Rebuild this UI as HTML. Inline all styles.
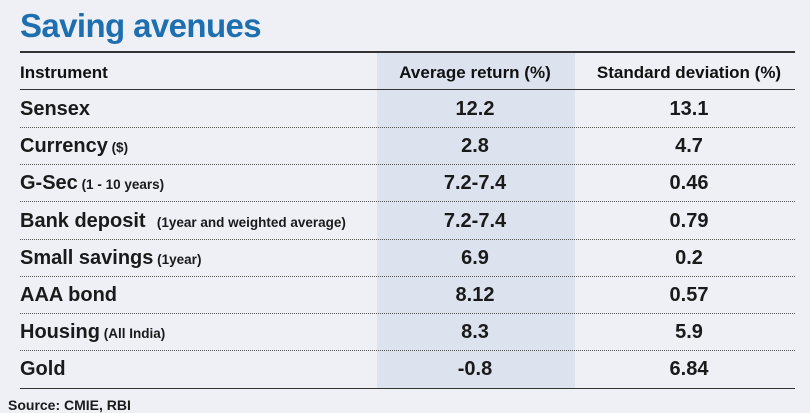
<!DOCTYPE html>
<html><head><meta charset="utf-8"><style>
body{margin:0;width:810px;height:413px;background:#eef0f6;position:relative;overflow:hidden;font-family:"Liberation Sans",sans-serif;color:#1a1a1a}
.shade{position:absolute;left:377px;top:53px;width:198px;height:336px;background:#dce3ee}
.title{position:absolute;left:20px;top:7px;font-family:"Liberation Sans",sans-serif;font-weight:bold;font-size:33px;color:#1e6fb0;letter-spacing:-0.6px}
.hl{position:absolute;left:20px;width:775px;border-top:2px solid #333}
.dl{position:absolute;left:20px;width:775px;border-top:1px dotted #555}
.t{position:absolute;white-space:nowrap;line-height:1}
.hd{font-weight:bold;font-size:17px;top:64px;color:#111}
.r{font-size:20px;font-weight:bold}
.s{font-size:13.5px;font-weight:bold}
.c{transform:translateX(-50%);font-size:20px;font-weight:bold}
</style></head><body>
<div class="shade"></div>
<div class="title">Saving avenues</div>
<div class="hl" style="top:51px"></div>
<div class="t hd" style="left:20px">Instrument</div>
<div class="t hd" style="left:475px;transform:translateX(-50%)">Average return (%)</div>
<div class="t hd" style="left:689px;transform:translateX(-50%)">Standard deviation (%)</div>
<div class="hl" style="top:89px;border-top-width:1.5px"></div>
<div id="rows"></div>
<div class="hl" style="top:388px;border-top-width:1.5px"></div>
<div class="t" style="left:8px;top:398px;font-size:14px;font-weight:bold">Source: CMIE, RBI</div>
<script>
const names=["Sensex","Currency","G-Sec","Bank deposit","Small savings","AAA bond","Housing","Gold"];
const notes=[""," ($)"," (1 - 10 years)","&nbsp;&nbsp;&nbsp;(1year and weighted average)"," (1year)",""," (All India)",""];
const avgVals=["12.2","2.8","7.2-7.4","7.2-7.4","6.9","8.12","8.3","-0.8"];
const sdVals=["13.1","4.7","0.46","0.79","0.2","0.57","5.9","6.84"];
const root=document.getElementById('rows');
names.forEach((n,i)=>{
  const y=99+i*37.2;
  const a=document.createElement('div');a.className='t r';a.style.left='20px';a.style.top=y+'px';
  a.innerHTML=n+'<span class="s">'+notes[i]+'</span>';
  
  
  root.appendChild(a);
  const b=document.createElement('div');b.className='t c';b.style.left='475px';b.style.top=y+'px';b.textContent=avgVals[i];
  
  
  root.appendChild(b);
  const c=document.createElement('div');c.className='t c';c.style.left='689px';c.style.top=y+'px';c.textContent=sdVals[i];
  
  
  root.appendChild(c);
  if(i<names.length-1){
    const d=document.createElement('div');d.className='dl';d.style.top=(127+i*37.2)+'px';
    
    
    root.appendChild(d);
  }
});
</script>
</body></html>
